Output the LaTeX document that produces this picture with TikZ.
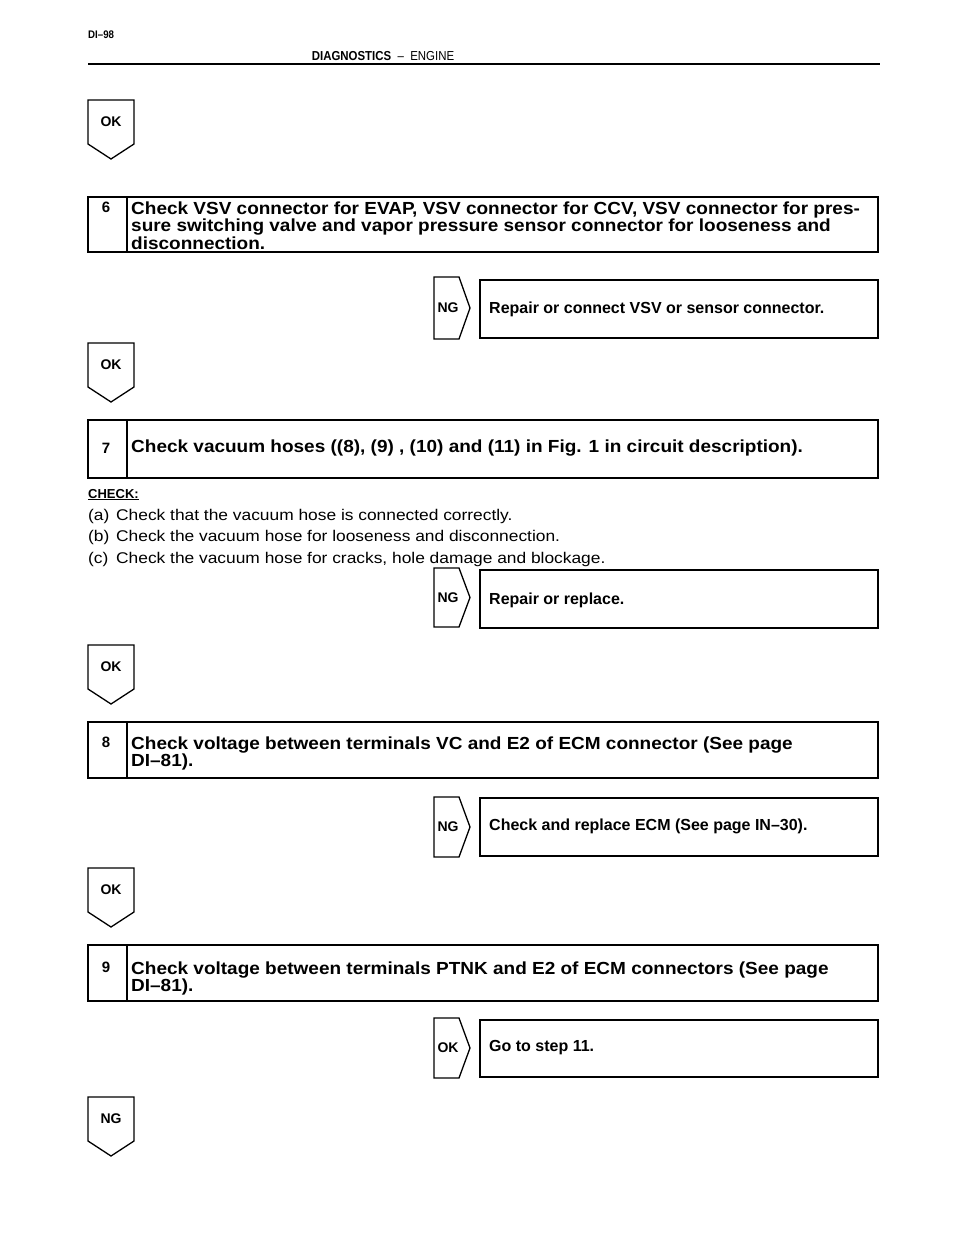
\documentclass[tikz,border=0pt]{standalone}
\usepackage{fontspec}
\setmainfont{Liberation Sans}
\newfontfamily\nrw[FakeStretch=0.88]{Liberation Sans}
\newfontfamily\wde[FakeStretch=1.085]{Liberation Sans}
\newfontfamily\wdi[FakeStretch=1.12]{Liberation Sans}
\newcommand\tightls{\lineskiplimit=-20pt\relax}
\tikzset{
  tagline/.style={draw=black,line width=1.3pt,line join=miter},
  boxline/.style={draw=black,line width=1.3pt},
  tagtext/.style={font=\bfseries\fontsize{14}{16}\selectfont,inner sep=0pt},
  steptext/.style={font=\wde\bfseries\fontsize{17.5}{17.5}\selectfont\tightls,inner sep=0pt,anchor=north west,align=left},
  numtext/.style={font=\bfseries\fontsize{15}{17}\selectfont,inner sep=0pt},
  restext/.style={font=\bfseries\fontsize{16}{18}\selectfont,inner sep=0pt,anchor=west},
  itemtext/.style={font=\wdi\fontsize{15.5}{17}\selectfont,inner sep=0pt,anchor=base west},
}
\newcommand\dtag[3]{%
  \draw[tagline] (88,#2) -- (134,#2) -- (134,#2+44) -- (111,#2+59) -- (88,#2+44) -- cycle;
  \node[tagtext] (#1) at (111,#2+22) {#3};}
\newcommand\rtag[4]{%
  \draw[tagline] (434,#2) -- (459,#2) -- (470,#2/2+#3/2) -- (459,#3) -- (434,#3) -- cycle;
  \node[tagtext] (#1) at (448,#2/2+#3/2) {#4};}
\begin{document}
\begin{tikzpicture}[x=1pt,y=-1pt]
\useasboundingbox (0,0) rectangle (960,1250);
% header
\node[font=\nrw\bfseries\fontsize{11}{13}\selectfont,inner sep=0pt,anchor=west] (pg) at (88,35) {DI–98};
\node[font=\nrw\fontsize{13}{15}\selectfont,inner sep=0pt] (hdr) at (383,56) {\textbf{DIAGNOSTICS}\ \ –\ \ ENGINE};
\coordinate (hl) at (88,64);
\coordinate (hr) at (880,64);
\draw[line width=1.1pt] (hl) -- (hr);

% OK 1
\dtag{ok1}{100}{OK}

% step 6
\draw[boxline] (88,197) rectangle (878,252);
\draw[boxline] (127,197) -- (127,252);
\node[numtext] (n6) at (106,207) {6};
\node[steptext] (s6) at (131,201.5) {Check VSV connector for EVAP, VSV connector for CCV, VSV connector for pres-\\sure switching valve and vapor pressure sensor connector for looseness and\\disconnection.};

\rtag{ng6}{277}{339}{NG}
\draw[boxline] (480,280) rectangle (878,338);
\node[restext] (r6) at (489,309) {Repair or connect VSV or sensor connector.};

% OK 2
\dtag{ok2}{343}{OK}

% step 7
\draw[boxline] (88,420) rectangle (878,478);
\draw[boxline] (127,420) -- (127,478);
\node[numtext] (n7) at (106,448) {7};
\node[steptext,anchor=west] (s7) at (131,448) {Check vacuum hoses ((8), (9) , (10) and (11) in Fig. 1 in circuit description).};

\node[font=\bfseries\fontsize{13}{15}\selectfont,inner sep=0pt,anchor=base west] (chk) at (88,498) {\underline{CHECK:}};
\node[itemtext] (ia) at (88,520) {(a)};
\node[itemtext] (ta) at (116,520) {Check that the vacuum hose is connected correctly.};
\node[itemtext] (ib) at (88,541) {(b)};
\node[itemtext] (tb) at (116,541) {Check the vacuum hose for looseness and disconnection.};
\node[itemtext] (ic) at (88,563) {(c)};
\node[itemtext] (tc) at (116,563) {Check the vacuum hose for cracks, hole damage and blockage.};

\rtag{ng7}{568}{627}{NG}
\draw[boxline] (480,570) rectangle (878,628);
\node[restext] (r7) at (489,600) {Repair or replace.};

% OK 3
\dtag{ok3}{645}{OK}

% step 8
\draw[boxline] (88,722) rectangle (878,778);
\draw[boxline] (127,722) -- (127,778);
\node[numtext] (n8) at (106,742) {8};
\node[steptext] (s8) at (131,736.5) {Check voltage between terminals VC and E2 of ECM connector (See page\\DI–81).};

\rtag{ng8}{797}{857}{NG}
\draw[boxline] (480,798) rectangle (878,856);
\node[restext] (r8) at (489,826) {Check and replace ECM (See page IN–30).};

% OK 4
\dtag{ok4}{868}{OK}

% step 9
\draw[boxline] (88,945) rectangle (878,1001);
\draw[boxline] (127,945) -- (127,1001);
\node[numtext] (n9) at (106,967) {9};
\node[steptext] (s9) at (131,961.5) {Check voltage between terminals PTNK and E2 of ECM connectors (See page\\DI–81).};

\rtag{ok9}{1018}{1078}{OK}
\draw[boxline] (480,1020) rectangle (878,1077);
\node[restext] (r9) at (489,1048) {Go to step 11.};

% NG bottom
\dtag{ng10}{1097}{NG}
\end{tikzpicture}
\end{document}
